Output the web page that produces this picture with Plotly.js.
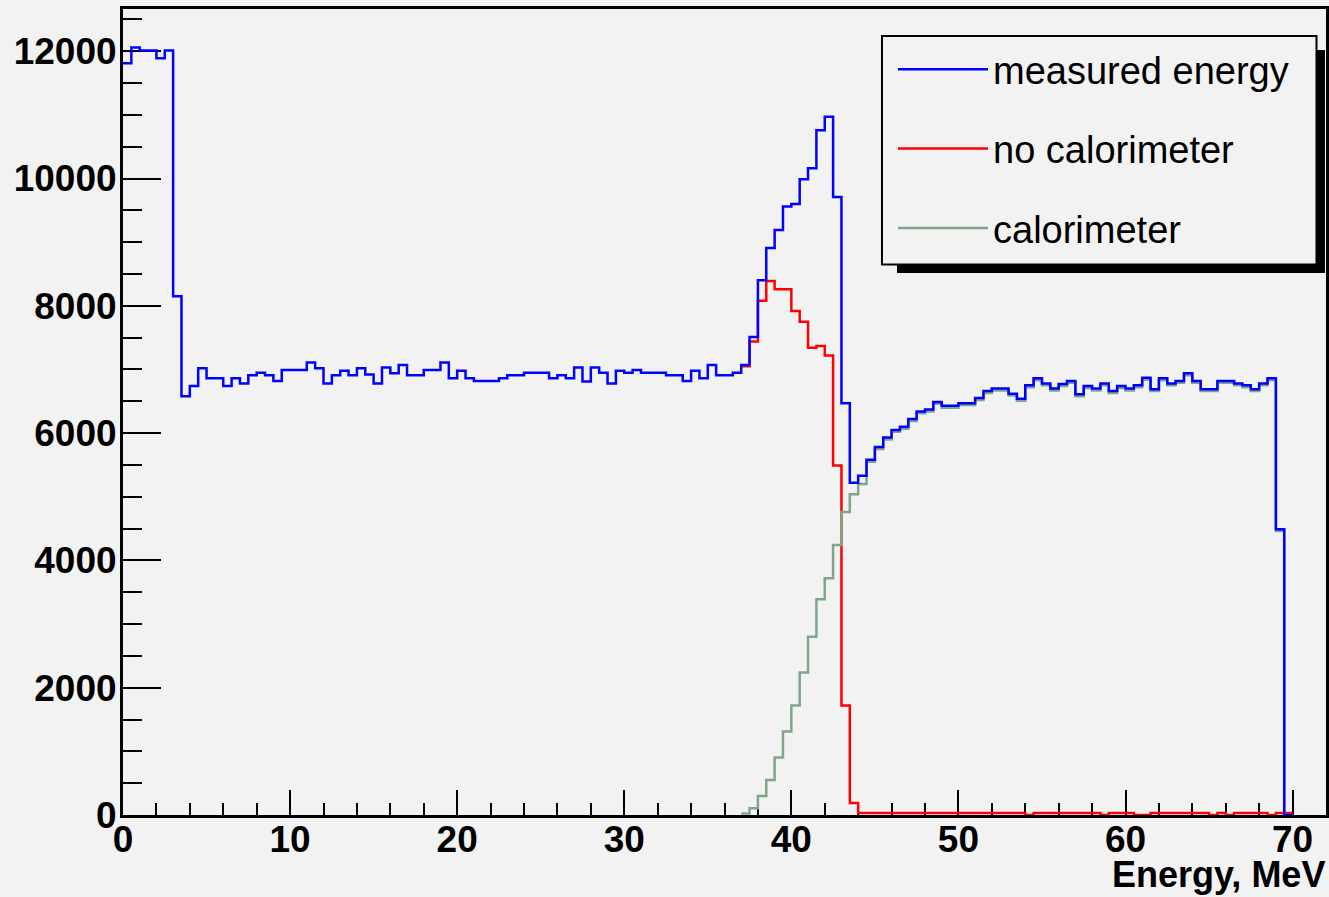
<!DOCTYPE html>
<html><head><meta charset="utf-8">
<script src="https://cdn.plot.ly/plotly-3.0.1.min.js"></script>
<style>html,body{margin:0;padding:0;background:#f2f2f2}</style>
</head><body><div id="chart" style="width:1329px;height:897px"></div>
<script>
// Histogram bins: 0.5 MeV wide
const binWidth = 0.5;

// measured energy: bins starting at 0 MeV
const measuredStart = 0;
const measuredEnergy = [
 11810,12060,12010,12010,11890,12010,8150,6580,6740,7020,
 6860,6860,6740,6860,6780,6910,6950,6910,6820,6990,
 6990,6990,7110,7020,6780,6910,6980,6910,7020,6920,
 6780,7030,6940,7070,6910,6910,6990,6990,7110,6860,
 6980,6860,6820,6820,6820,6860,6910,6910,6950,6950,
 6950,6860,6910,6860,7030,6810,7030,6950,6780,6980,
 6950,6990,6950,6950,6950,6910,6910,6820,6980,6860,
 7070,6910,6910,6950,7070,7510,8400,8910,9190,9560,
 9600,9990,10160,10760,10970,9710,6470,5220,5330,5580,
 5780,5930,6050,6100,6220,6340,6370,6490,6430,6430,
 6470,6470,6550,6660,6700,6700,6620,6540,6750,6860,
 6780,6700,6770,6820,6610,6740,6700,6780,6660,6740,
 6700,6750,6870,6690,6860,6780,6820,6940,6820,6690,
 6690,6820,6820,6780,6750,6690,6780,6860,4490,0
];

// no calorimeter / calorimeter: bins starting at 37 MeV
const caloStart = 37;
const noCalorimeter = [
 7050,7440,8080,8390,8260,8260,7920,7750,7340,7370,
 7220,5490,1720,190,30,30,30,30,30,30,
 30,30,30,30,30,30,30,30,30,30,
 30,30,30,30,0,30,30,30,30,30,
 30,30,30,0,30,30,30,0,0,30,
 30,30,30,30,30,30,0,30,0,30,
 30,30,30,0,30,30
];
const calorimeter = [
 25,105,300,550,905,1310,1720,2240,2800,3390,
 3720,4240,4760,5040,5200,5550,5750,5900,6020,6070,
 6190,6310,6340,6460,6400,6400,6440,6440,6520,6630,
 6670,6670,6590,6510,6720,6830,6750,6670,6740,6790,
 6580,6710,6670,6750,6630,6710,6670,6720,6840,6660,
 6830,6750,6790,6910,6790,6660,6660,6790,6790,6750,
 6720,6660,6750,6830,4460,0
];

function stepXY(start, vals) {
  const x = [], y = [];
  vals.forEach((v, i) => { x.push(start + i * binWidth); y.push(v); });
  x.push(start + vals.length * binWidth); y.push(vals[vals.length - 1]);
  return {x, y};
}

const blue = stepXY(measuredStart, measuredEnergy);
const red = stepXY(caloStart, noCalorimeter);
const green = stepXY(caloStart, calorimeter);

const traces = [
  {x: red.x, y: red.y, type: 'scatter', mode: 'lines', name: 'no calorimeter',
   line: {shape: 'hv', color: '#ff0000', width: 2.5}, legendrank: 2, legendgroup: 'b'},
  {x: green.x, y: green.y, type: 'scatter', mode: 'lines', name: 'calorimeter',
   line: {shape: 'hv', color: '#7fa68a', width: 2.5}, legendrank: 3, legendgroup: 'c'},
  {x: blue.x, y: blue.y, type: 'scatter', mode: 'lines', name: 'measured energy',
   line: {shape: 'hv', color: '#0000ff', width: 2.5}, legendrank: 1, legendgroup: 'a'}
];

const tickFont = {family: 'Liberation Sans, Arial, sans-serif', size: 37, color: '#000', weight: 'bold'};

const layout = {
  width: 1329, height: 897,
  paper_bgcolor: '#f2f2f2', plot_bgcolor: '#f2f2f2',
  margin: {l: 123, r: 3, t: 9, b: 82},
  showlegend: true,
  legend: {
    x: (893 - 123) / 1203, y: 0.964, xanchor: 'left', yanchor: 'top',
    bgcolor: 'rgba(0,0,0,0)', borderwidth: 0,
    font: {family: 'Liberation Sans, Arial, sans-serif', size: 38, color: '#000'},
    itemwidth: 90, tracegroupgap: 27, traceorder: 'grouped'
  },
  xaxis: {
    range: [0, 72], showgrid: false, zeroline: false,
    showline: true, linecolor: '#000', linewidth: 3, mirror: true,
    ticks: 'inside', ticklen: 25, tickwidth: 2, tickcolor: '#000',
    tick0: 0, dtick: 10, tickfont: tickFont, layer: 'below traces',
    ticklabelstandoff: -10,
    minor: {ticks: 'inside', ticklen: 12, tickwidth: 2, tickcolor: '#000', dtick: 2, showgrid: false}
  },
  yaxis: {
    range: [0, 12663], showgrid: false, zeroline: false,
    showline: true, linecolor: '#000', linewidth: 3, mirror: true,
    ticks: 'inside', ticklen: 38, tickwidth: 2, tickcolor: '#000',
    tick0: 0, dtick: 2000, tickformat: 'd', tickfont: tickFont, layer: 'below traces',
    ticklabelstandoff: -4,
    minor: {ticks: 'inside', ticklen: 19, tickwidth: 2, tickcolor: '#000', dtick: 500, showgrid: false}
  },
  shapes: [
    {type: 'rect', xref: 'paper', yref: 'paper', x0: 0.64339, x1: 0.99917, y0: 0.67246, y1: 0.94913,
     fillcolor: '#000', line: {width: 0}, layer: 'above'},
    {type: 'rect', xref: 'paper', yref: 'paper', x0: 0.6309, x1: 0.9921, y0: 0.6830, y1: 0.9665,
     fillcolor: '#f2f2f2', line: {width: 2, color: '#000'}, layer: 'above'}
  ],
  annotations: [
    {text: 'Energy, MeV', xref: 'paper', yref: 'paper', x: 1.0, y: -0.1,
     xanchor: 'right', yanchor: 'bottom', showarrow: false, borderpad: 0,
     font: {family: 'Liberation Sans, Arial, sans-serif', size: 36, color: '#000', weight: 'bold'}}
  ]
};

Plotly.newPlot('chart', traces, layout, {displayModeBar: false, staticPlot: true});
</script>
</body></html>
